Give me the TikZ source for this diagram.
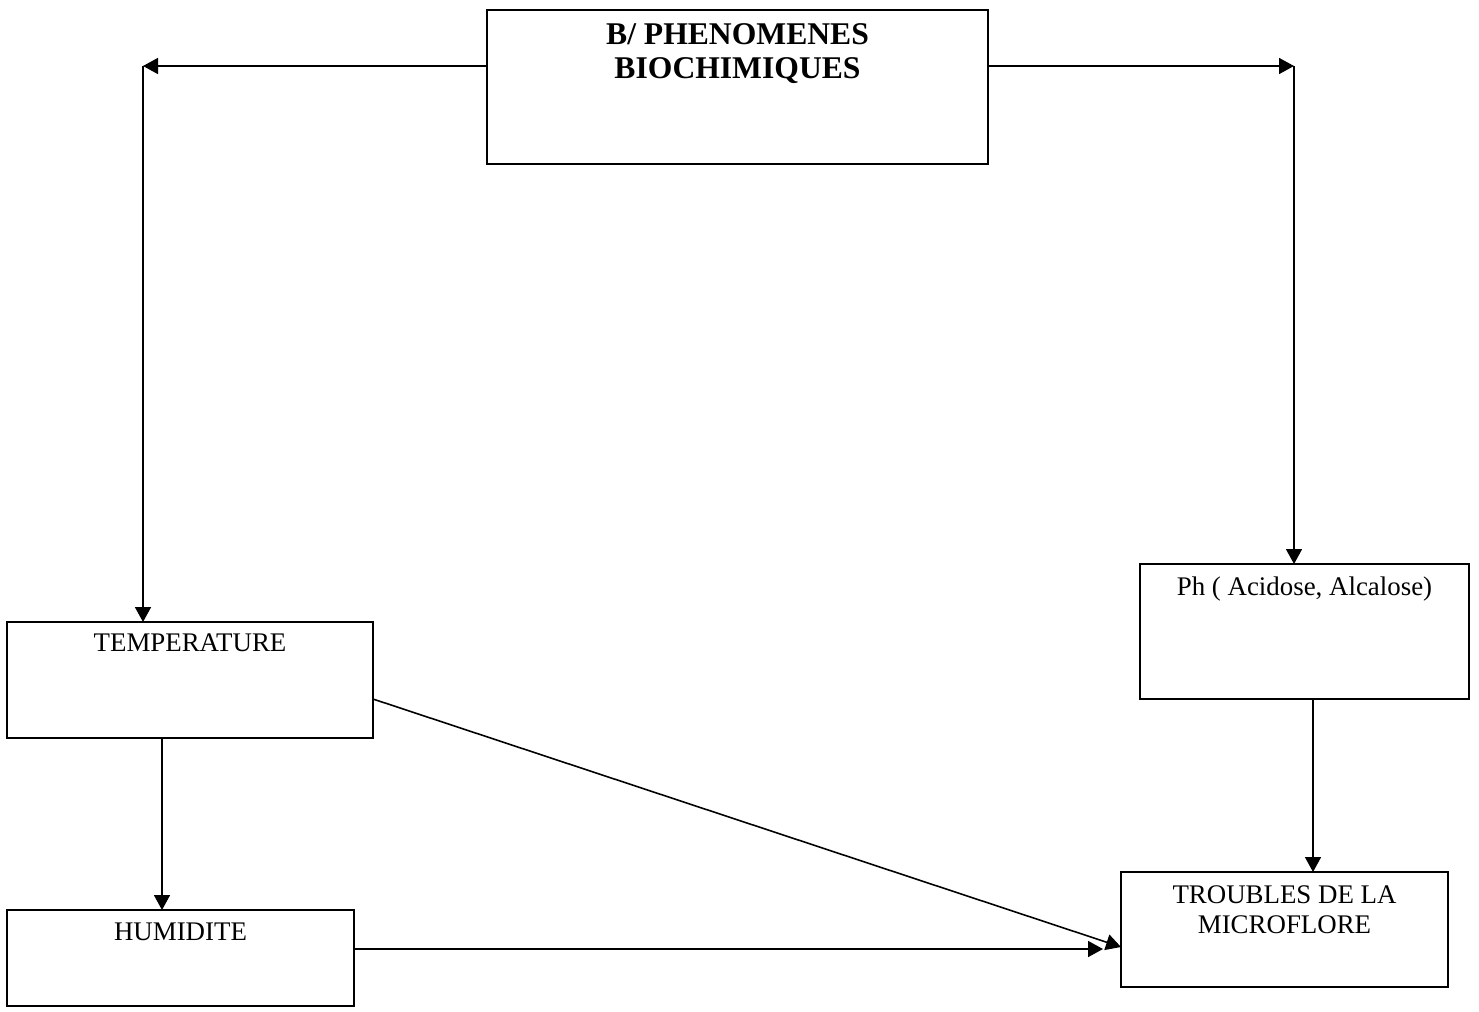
\documentclass[tikz,border=0pt]{standalone}
\usepackage{fontspec}
\setmainfont{Liberation Serif}
\usetikzlibrary{positioning}
\usetikzlibrary{arrows.meta}
\tikzset{
    box/.style={draw, line width=1.2pt, inner sep=0pt, outer sep=0pt},
    boxText/.style={inner sep=0pt, align=center, font=\fontsize{15.3}{17}\selectfont},
    titleText/.style={inner sep=0pt, align=center, font=\bfseries\fontsize{18}{19.5}\selectfont},
    link/.style={line width=0.9pt, ->}
}

\begin{document}
\begin{tikzpicture}[x=0.02cm, y=-0.02cm, >={Triangle[length=0.3cm,width=0.32cm]}]
			\useasboundingbox (0,0) rectangle (1479,1011);
			\node[box, minimum width=10.02cm, minimum height=3.08cm] (phen) at (737.5,87) {};
			\node[box, minimum width=7.32cm, minimum height=2.32cm] (temp) at (190,680) {};
			\node[box, minimum width=6.94cm, minimum height=1.92cm] (hum) at (180.5,958) {};
			\node[box, minimum width=6.58cm, minimum height=2.70cm] (ph) at (1304.5,631.5) {};
			\node[box, minimum width=6.54cm, minimum height=2.30cm] (trb) at (1284.5,929.5) {};
			\node[titleText, below=0.26cm of phen.north] (phenText) {B/ PHENOMENES\\BIOCHIMIQUES};
			\node[boxText, below=0.22cm of temp.north] (tempText) {TEMPERATURE};
			\node[boxText, below=0.25cm of hum.north] (humText) {HUMIDITE};
			\node[boxText, below=0.24cm of ph.north] (phText) {Ph ( Acidose, Alcalose)};
			\node[boxText, below=0.26cm of trb.north] (trbText) {TROUBLES DE LA\\MICROFLORE};
			\coordinate (cornerL) at (143,66);
			\coordinate (cornerR) at (1294,66);
			\coordinate (humEnd) at (1103,949);
			\draw[link] (phen.west |- cornerL) -- (cornerL);
			\draw[link] (cornerL) -- (temp.north -| cornerL);
			\draw[link] (phen.east |- cornerR) -- (cornerR);
			\draw[link] (cornerR) -- (ph.north -| cornerR);
			\draw[link] (temp.south -| 162,0) -- (hum.north -| 162,0);
			\draw[link] (ph.south -| 1313,0) -- (trb.north -| 1313,0);
			\draw[link] ([yshift=-0.38cm]temp.east) -- ([yshift=-0.35cm]trb.west);
			\draw[link] (hum.east |- humEnd) -- (humEnd);
		\end{tikzpicture}
\end{document}
